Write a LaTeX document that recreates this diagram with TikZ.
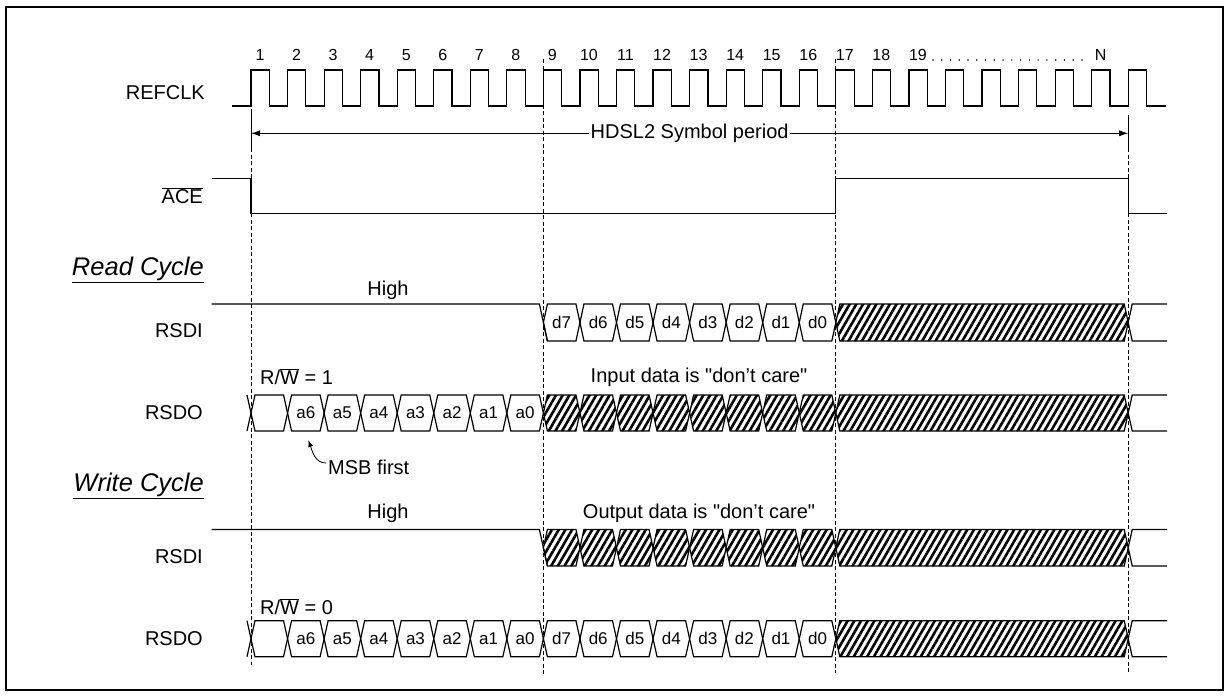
\documentclass[tikz,border=0pt]{standalone}
\usepackage{fontspec}
\setmainfont{Liberation Sans}[Ligatures=TeXOff]
\usetikzlibrary{patterns.meta,arrows.meta}

\tikzset{
  sig/.style={line width=1.2pt, line join=miter},
  gridline/.style={line width=0.7pt, dash pattern=on 4pt off 2.5pt},
  lbl/.style={font=\fontsize{20}{24}\selectfont, inner sep=0pt},
  rlbl/.style={lbl, anchor=east},
  head/.style={font=\fontsize{25.5}{30}\selectfont\itshape, inner sep=0pt, anchor=east},
  num/.style={font=\fontsize{16}{19}\selectfont, inner sep=0pt},
  dat/.style={font=\fontsize{17}{20}\selectfont, inner sep=0pt},
  hatch/.style={pattern={Lines[angle=60,distance=5.8pt,line width=2.6pt]}},
}

% #1 left x, #2 right x, #3 top y, #4 bottom y, #5 style, #6 label
\newcommand\tcell[6]{%
  \draw[sig,#5] ({#1},{(#3+#4)/2}) -- ({(#1)+4},#3) -- ({(#2)-4},#3) -- ({#2},{(#3+#4)/2})
     -- ({(#2)-4},#4) -- ({(#1)+4},#4) -- cycle;
  \node[dat] at ({((#1)+(#2))/2},{(#3+#4)/2}) {#6};
}
% open end after last edge
\newcommand\tend[2]{%
  \draw[sig] (1167,#1) -- ({tx(25)+4},#1) -- ({tx(25)},{(#1+#2)/2}) -- ({tx(25)+4},#2) -- (1167,#2);
}
% stub before first edge
\newcommand\tstart[2]{%
  \draw[sig] ({tx(1)-4},#1) -- ({tx(1)},{(#1+#2)/2}) -- ({tx(1)-4},#2);
}

\begin{document}
\begin{tikzpicture}[x=1pt,y=-1pt, declare function={tx(\n)=251+(\n-1)*36.55;}]
\useasboundingbox (0,0) rectangle (1230,697);
\draw[line width=2.4pt] (6,7) rectangle (1223,690);

% ---------- grid lines ----------
\draw[gridline] (251,70) -- (251,665);
\draw[gridline] ({tx(9)},59) -- ({tx(9)},675);
\draw[gridline] ({tx(17)},59) -- ({tx(17)},673);
\draw[gridline] ({tx(25)},148) -- ({tx(25)},672);

% ---------- REFCLK ----------
\node[rlbl] (refclk) at (205,93) {REFCLK};
\draw[sig] (232,106) \foreach \k in {1,...,25}{ -- ({tx(\k)},106) -- ({tx(\k)},70) -- ({tx(\k)+18.3},70) -- ({tx(\k)+18.3},106)} -- (1166,106);
\foreach \k in {1,...,19}{ \node[num] (n\k) at ({tx(\k)+9},55) {\k}; }
\node[num] (nN) at ({tx(24)+9},55) {N};
\foreach \i in {0,...,17}{ \fill ({933+\i*8.76},60) circle (0.85pt); }

% ---------- symbol period ----------
\coordinate (pl) at (251,133.3);
\coordinate (pr) at ({tx(25)},133.3);
\draw[line width=0.8pt] (251,112) -- (251,148);
\draw[line width=0.8pt] ({tx(25)},115) -- ({tx(25)},148);
\draw[line width=0.8pt, {Latex[length=9pt,width=6pt]}-{Latex[length=9pt,width=6pt]}] (pl) -- node[lbl, fill=white, inner sep=1.5pt] (per) {HDSL2 Symbol period} (pr);

% ---------- ACE ----------
\node[rlbl] (ace) at (203,196) {$\overline{\hbox{ACE}}$};
\draw[sig] (211.7,178.3) -- (251,178.3) -- (251,213.3) -- ({tx(17)},213.3) -- ({tx(17)},178.3) -- ({tx(25)},178.3) -- ({tx(25)},213.3) -- (1166.7,213.3);

% ---------- Read cycle ----------
\node[head] (rc) at (204,270) {\underline{Read Cycle}};
\node[rlbl] (rsdi1) at (203,331) {RSDI};
\node[lbl] (high1) at (388,290) {High};
\draw[sig] (211.7,304) -- ({tx(9)-4},304) -- ({tx(9)+4},341);
\foreach \lab [count=\i from 9] in {d7,d6,d5,d4,d3,d2,d1,d0}{ \tcell{tx(\i)}{tx(\i+1)}{304}{341}{}{\lab} }
\tcell{tx(17)}{tx(25)}{304}{341}{hatch}{}
\tend{304}{341}

\node[lbl, anchor=west] (rw1) at (260,377) {R/$\overline{\hbox{W}}$ = 1};
\node[lbl] (idc) at (699,377) {Input data is "don’t care"};
\node[rlbl] (rsdo1) at (203,413) {RSDO};
\tstart{395}{431}
\tcell{tx(1)}{tx(2)}{395}{431}{}{}
\foreach \lab [count=\i from 2] in {a6,a5,a4,a3,a2,a1,a0}{ \tcell{tx(\i)}{tx(\i+1)}{395}{431}{}{\lab} }
\foreach \i in {9,...,16}{ \tcell{tx(\i)}{tx(\i+1)}{395}{431}{hatch}{} }
\tcell{tx(17)}{tx(25)}{395}{431}{hatch}{}
\tend{395}{431}

\node[lbl, anchor=west] (msb) at (328,467) {MSB first};
\coordinate (msbtip) at (308.3,440);
\draw[line width=0.8pt, -{Latex[length=7pt,width=5pt]}] (msb.west) ++(-2,-4) to[out=180,in=-70] (msbtip);

% ---------- Write cycle ----------
\node[head] (wc) at (204,486) {\underline{Write Cycle}};
\node[rlbl] (rsdi2) at (203,557) {RSDI};
\node[lbl] (high2) at (388,513) {High};
\node[lbl] (odc) at (699,513) {Output data is "don’t care"};
\draw[sig] (211.7,529.5) -- ({tx(9)-4},529.5) -- ({tx(9)+4},566);
\foreach \i in {9,...,16}{ \tcell{tx(\i)}{tx(\i+1)}{529.5}{566}{hatch}{} }
\tcell{tx(17)}{tx(25)}{529.5}{566}{hatch}{}
\tend{529.5}{566}

\node[lbl, anchor=west] (rw0) at (260,607) {R/$\overline{\hbox{W}}$ = 0};
\node[rlbl] (rsdo2) at (203,639) {RSDO};
\tstart{620.7}{656.7}
\tcell{tx(1)}{tx(2)}{620.7}{656.7}{}{}
\foreach \lab [count=\i from 2] in {a6,a5,a4,a3,a2,a1,a0,d7,d6,d5,d4,d3,d2,d1,d0}{ \tcell{tx(\i)}{tx(\i+1)}{620.7}{656.7}{}{\lab} }
\tcell{tx(17)}{tx(25)}{620.7}{656.7}{hatch}{}
\tend{620.7}{656.7}
\end{tikzpicture}
\end{document}
